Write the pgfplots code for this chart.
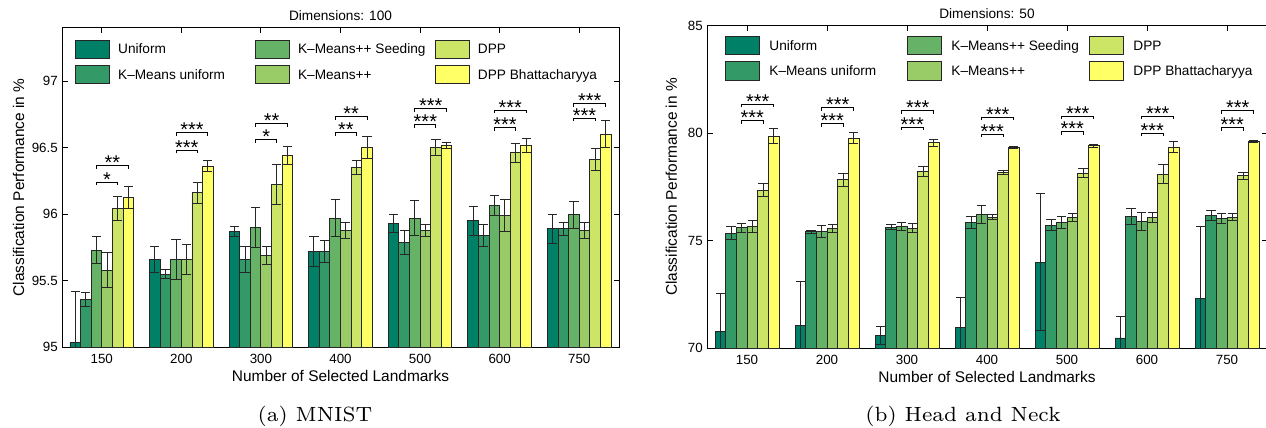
\documentclass[border=0pt]{standalone}
\usepackage{pgfplots}
\usepackage{pgfplotstable}
\usepackage{fontspec}
\pgfplotsset{compat=1.18}
\newfontfamily\hv{Liberation Sans}

\definecolor{cU}{rgb}{0,0.5,0.4}
\definecolor{cKU}{rgb}{0.2,0.6,0.4}
\definecolor{cKS}{rgb}{0.4,0.7,0.4}
\definecolor{cKP}{rgb}{0.6,0.8,0.4}
\definecolor{cD}{rgb}{0.8,0.9,0.4}
\definecolor{cDB}{rgb}{1,1,0.4}

% ---------------- MNIST (Dimensions: 100) ----------------
\pgfplotstableread{
x y e
1 95.035 0.385
2 95.66 0.10
3 95.87 0.04
4 95.72 0.11
5 95.93 0.07
6 95.95 0.11
7 95.89 0.11
}\mnU
\pgfplotstableread{
x y e
1 95.36 0.05
2 95.55 0.035
3 95.66 0.10
4 95.72 0.08
5 95.79 0.09
6 95.84 0.08
7 95.89 0.05
}\mnKU
\pgfplotstableread{
x y e
1 95.73 0.10
2 95.66 0.15
3 95.90 0.15
4 95.97 0.14
5 95.97 0.13
6 96.065 0.075
7 95.995 0.10
}\mnKS
\pgfplotstableread{
x y e
1 95.58 0.13
2 95.66 0.11
3 95.69 0.07
4 95.88 0.06
5 95.88 0.045
6 95.99 0.12
7 95.875 0.06
}\mnKP
\pgfplotstableread{
x y e
1 96.04 0.09
2 96.16 0.08
3 96.22 0.15
4 96.35 0.05
5 96.50 0.06
6 96.46 0.07
7 96.41 0.08
}\mnD
\pgfplotstableread{
x y e
1 96.125 0.08
2 96.36 0.04
3 96.44 0.07
4 96.50 0.08
5 96.515 0.025
6 96.515 0.05
7 96.60 0.10
}\mnDB

% ---------------- Head and Neck (Dimensions: 50) ----------------
\pgfplotstableread{
x y e
1 70.79 1.74
2 71.07 2.03
3 70.59 0.42
4 70.98 1.37
5 74.00 3.18
6 70.48 0.99
7 72.33 3.33
}\hnU
\pgfplotstableread{
x y e
1 75.36 0.32
2 75.42 0.08
3 75.63 0.12
4 75.84 0.28
5 75.73 0.27
6 76.12 0.36
7 76.17 0.23
}\hnKU
\pgfplotstableread{
x y e
1 75.60 0.22
2 75.41 0.28
3 75.66 0.17
4 76.23 0.42
5 75.84 0.28
6 75.89 0.42
7 76.05 0.23
}\hnKS
\pgfplotstableread{
x y e
1 75.66 0.27
2 75.58 0.19
3 75.58 0.20
4 76.09 0.12
5 76.09 0.19
6 76.09 0.22
7 76.09 0.16
}\hnKP
\pgfplotstableread{
x y e
1 77.36 0.30
2 77.83 0.31
3 78.22 0.23
4 78.19 0.10
5 78.14 0.20
6 78.09 0.44
7 78.03 0.16
}\hnD
\pgfplotstableread{
x y e
1 79.87 0.34
2 79.78 0.27
3 79.56 0.16
4 79.33 0.05
5 79.42 0.07
6 79.36 0.25
7 79.63 0.04
}\hnDB

\tikzset{
  sigstar/.style={anchor=base, inner sep=0pt, yshift=-4bp, font=\hv\fontsize{20}{22}\selectfont},
  capt/.style={anchor=base, inner sep=0pt},
}
\pgfplotsset{
  bars/.style={ybar, bar width=0.133333, bar shift=0pt, fill=#1, draw=black!85, line width=0.9bp,
    legend image code/.code={\draw[fill=#1, draw=black!85, line width=0.9bp] (0bp,-9.1bp) rectangle (34bp,9.1bp);},
    /pgfplots/error bars/y dir=both,
    /pgfplots/error bars/y explicit,
    /pgfplots/error bars/error mark=|,
    /pgfplots/error bars/error bar style={draw=black!85, line width=1bp},
    /pgfplots/error bars/error mark options={draw=black!85, line width=1bp, mark size=4.6bp}},
  common/.style={
    scale only axis,
    anchor=south west,
    xmin=0.5, xmax=7.5,
    xtick={1,2,3,4,5,6,7},
    xticklabels={150,200,300,400,500,600,750},
    tick align=inside,
    tick pos=both,
    major tick length=5.5bp,
    axis line style={line width=0.9bp, black},
    every tick/.style={black, line width=0.9bp},
    ticklabel style={font=\hv\fontsize{13.4}{16}\selectfont},
    /pgf/number format/assume math mode=true,
    xticklabel style={anchor=base, yshift=-16bp},
    yticklabel style={anchor=east, inner sep=0pt, xshift=-4bp},
    label style={font=\hv\fontsize{15.5}{18}\selectfont},
    xlabel={Number of Selected Landmarks},
    ylabel={Classification Performance in \%},
    every axis title shift=0pt,
    title style={font=\hv\fontsize{13.7}{16}\selectfont, anchor=base, yshift=7.5bp},
    xlabel style={at={(axis description cs:0.5,0)}, anchor=base, yshift=-34.5bp},
    ylabel style={anchor=base},
    legend columns=2, transpose legend,
    legend cell align=left,
    legend style={draw=none, fill=none, inner sep=0pt, outer sep=0pt, anchor=north west,
      font=\hv\fontsize{13.7}{16}\selectfont, row sep=6.1bp,
      nodes={inner sep=0pt, text height=9.8bp, text depth=0pt}},
  },
  brk/.style={black, line width=1bp, forget plot},
}

\begin{document}
\begin{tikzpicture}
\useasboundingbox (0,0) rectangle (1266bp,428bp);

% ======================= (a) MNIST =======================
\begin{axis}[common, name=L,
  at={(62bp,80.7bp)}, width=557bp, height=319.6bp,
  ymin=95, ymax=97.4, ytick={95,95.5,96,96.5,97},
  title={Dimensions: 100},
  ylabel style={at={(axis description cs:-0.0682,0.5)}},
  legend style={at={(axis description cs:0.0242,0.963)},
    /tikz/every odd column/.append style={column sep=7.8bp}},
]
\addplot[bars=cU]  table[x expr=\thisrow{x}-0.333333,y=y,y error=e] {\mnU};
\addlegendentry{\makebox[137.2bp][l]{Uniform}}
\addplot[bars=cKU] table[x expr=\thisrow{x}-0.2,y=y,y error=e] {\mnKU};
\addlegendentry{\makebox[137.2bp][l]{K\textendash Means uniform}}
\addplot[bars=cKS] table[x expr=\thisrow{x}-0.066667,y=y,y error=e] {\mnKS};
\addlegendentry{\makebox[137.2bp][l]{K\textendash Means++ Seeding}}
\addplot[bars=cKP] table[x expr=\thisrow{x}+0.066667,y=y,y error=e] {\mnKP};
\addlegendentry{\makebox[137.2bp][l]{K\textendash Means++}}
\addplot[bars=cD]  table[x expr=\thisrow{x}+0.2,y=y,y error=e] {\mnD};
\addlegendentry{\makebox[137.2bp][l]{DPP}}
\addplot[bars=cDB] table[x expr=\thisrow{x}+0.333333,y=y,y error=e] {\mnDB};
\addlegendentry{\makebox[137.2bp][l]{DPP Bhattacharyya}}

\addplot[brk] coordinates {(0.9333,96.217) (0.9333,96.24) (1.2,96.24) (1.2,96.217)};
\addplot[brk] coordinates {(0.9333,96.342) (0.9333,96.365) (1.3333,96.365) (1.3333,96.342)};
\addplot[brk] coordinates {(1.9333,96.457) (1.9333,96.48) (2.2,96.48) (2.2,96.457)};
\addplot[brk] coordinates {(1.9333,96.587) (1.9333,96.61) (2.3333,96.61) (2.3333,96.587)};
\addplot[brk] coordinates {(2.9333,96.537) (2.9333,96.56) (3.2,96.56) (3.2,96.537)};
\addplot[brk] coordinates {(2.9333,96.657) (2.9333,96.68) (3.3333,96.68) (3.3333,96.657)};
\addplot[brk] coordinates {(3.9333,96.587) (3.9333,96.61) (4.2,96.61) (4.2,96.587)};
\addplot[brk] coordinates {(3.9333,96.707) (3.9333,96.73) (4.3333,96.73) (4.3333,96.707)};
\addplot[brk] coordinates {(4.9333,96.647) (4.9333,96.67) (5.2,96.67) (5.2,96.647)};
\addplot[brk] coordinates {(4.9333,96.767) (4.9333,96.79) (5.3333,96.79) (5.3333,96.767)};
\addplot[brk] coordinates {(5.9333,96.627) (5.9333,96.65) (6.2,96.65) (6.2,96.627)};
\addplot[brk] coordinates {(5.9333,96.757) (5.9333,96.78) (6.3333,96.78) (6.3333,96.757)};
\addplot[brk] coordinates {(6.9333,96.697) (6.9333,96.72) (7.2,96.72) (7.2,96.697)};
\addplot[brk] coordinates {(6.9333,96.807) (6.9333,96.83) (7.3333,96.83) (7.3333,96.807)};
\node[sigstar] at (axis cs:1.0667,96.24) {*};
\node[sigstar] at (axis cs:1.1333,96.365) {**};
\node[sigstar] at (axis cs:2.0667,96.48) {***};
\node[sigstar] at (axis cs:2.1333,96.61) {***};
\node[sigstar] at (axis cs:3.0667,96.56) {*};
\node[sigstar] at (axis cs:3.1333,96.68) {**};
\node[sigstar] at (axis cs:4.0667,96.61) {**};
\node[sigstar] at (axis cs:4.1333,96.73) {**};
\node[sigstar] at (axis cs:5.0667,96.67) {***};
\node[sigstar] at (axis cs:5.1333,96.79) {***};
\node[sigstar] at (axis cs:6.0667,96.65) {***};
\node[sigstar] at (axis cs:6.1333,96.78) {***};
\node[sigstar] at (axis cs:7.0667,96.72) {***};
\node[sigstar] at (axis cs:7.1333,96.83) {***};
\end{axis}

% ======================= (b) Head and Neck =======================
\begin{axis}[common, name=R,
  at={(707bp,79.7bp)}, width=560bp, height=322.6bp,
  ymin=70, ymax=85, ytick={70,75,80,85},
  title={Dimensions: 50},
  ylabel style={at={(axis description cs:-0.0536,0.5)}},
  legend style={at={(axis description cs:0.0325,0.9675)},
    /tikz/every odd column/.append style={column sep=9.3bp}},
]
\addplot[bars=cU]  table[x expr=\thisrow{x}-0.333333,y=y,y error=e] {\hnU};
\addlegendentry{\makebox[137.8bp][l]{Uniform}}
\addplot[bars=cKU] table[x expr=\thisrow{x}-0.2,y=y,y error=e] {\hnKU};
\addlegendentry{\makebox[137.8bp][l]{K\textendash Means uniform}}
\addplot[bars=cKS] table[x expr=\thisrow{x}-0.066667,y=y,y error=e] {\hnKS};
\addlegendentry{\makebox[137.8bp][l]{K\textendash Means++ Seeding}}
\addplot[bars=cKP] table[x expr=\thisrow{x}+0.066667,y=y,y error=e] {\hnKP};
\addlegendentry{\makebox[137.8bp][l]{K\textendash Means++}}
\addplot[bars=cD]  table[x expr=\thisrow{x}+0.2,y=y,y error=e] {\hnD};
\addlegendentry{\makebox[137.8bp][l]{DPP}}
\addplot[bars=cDB] table[x expr=\thisrow{x}+0.333333,y=y,y error=e] {\hnDB};
\addlegendentry{\makebox[137.8bp][l]{DPP Bhattacharyya}}

\addplot[brk] coordinates {(0.9333,80.45) (0.9333,80.59) (1.2,80.59) (1.2,80.45)};
\addplot[brk] coordinates {(0.9333,81.21) (0.9333,81.35) (1.3333,81.35) (1.3333,81.21)};
\addplot[brk] coordinates {(1.9333,80.29) (1.9333,80.43) (2.2,80.43) (2.2,80.29)};
\addplot[brk] coordinates {(1.9333,81.05) (1.9333,81.19) (2.3333,81.19) (2.3333,81.05)};
\addplot[brk] coordinates {(2.9333,80.14) (2.9333,80.28) (3.2,80.28) (3.2,80.14)};
\addplot[brk] coordinates {(2.9333,80.91) (2.9333,81.05) (3.3333,81.05) (3.3333,80.91)};
\addplot[brk] coordinates {(3.9333,79.81) (3.9333,79.95) (4.2,79.95) (4.2,79.81)};
\addplot[brk] coordinates {(3.9333,80.60) (3.9333,80.74) (4.3333,80.74) (4.3333,80.60)};
\addplot[brk] coordinates {(4.9333,79.94) (4.9333,80.08) (5.2,80.08) (5.2,79.94)};
\addplot[brk] coordinates {(4.9333,80.66) (4.9333,80.80) (5.3333,80.80) (5.3333,80.66)};
\addplot[brk] coordinates {(5.9333,79.86) (5.9333,80.00) (6.2,80.00) (6.2,79.86)};
\addplot[brk] coordinates {(5.9333,80.66) (5.9333,80.80) (6.3333,80.80) (6.3333,80.66)};
\addplot[brk] coordinates {(6.9333,80.12) (6.9333,80.26) (7.2,80.26) (7.2,80.12)};
\addplot[brk] coordinates {(6.9333,80.90) (6.9333,81.04) (7.3333,81.04) (7.3333,80.90)};
\node[sigstar] at (axis cs:1.0667,80.59) {***};
\node[sigstar] at (axis cs:1.1333,81.35) {***};
\node[sigstar] at (axis cs:2.0667,80.43) {***};
\node[sigstar] at (axis cs:2.1333,81.19) {***};
\node[sigstar] at (axis cs:3.0667,80.28) {***};
\node[sigstar] at (axis cs:3.1333,81.05) {***};
\node[sigstar] at (axis cs:4.0667,79.95) {***};
\node[sigstar] at (axis cs:4.1333,80.74) {***};
\node[sigstar] at (axis cs:5.0667,80.08) {***};
\node[sigstar] at (axis cs:5.1333,80.80) {***};
\node[sigstar] at (axis cs:6.0667,80.00) {***};
\node[sigstar] at (axis cs:6.1333,80.80) {***};
\node[sigstar] at (axis cs:7.0667,80.26) {***};
\node[sigstar] at (axis cs:7.1333,81.04) {***};
\end{axis}

\node[capt] at ([xshift=253bp, yshift=-74.4bp]L.south west)
  {\scalebox{2.95}{\fontsize{7}{8}\selectfont (a) MNIST}};
\node[capt] at ([xshift=256bp, yshift=-73.4bp]R.south west)
  {\scalebox{2.95}{\fontsize{7}{8}\selectfont (b) Head and Neck}};
\end{tikzpicture}
\end{document}
